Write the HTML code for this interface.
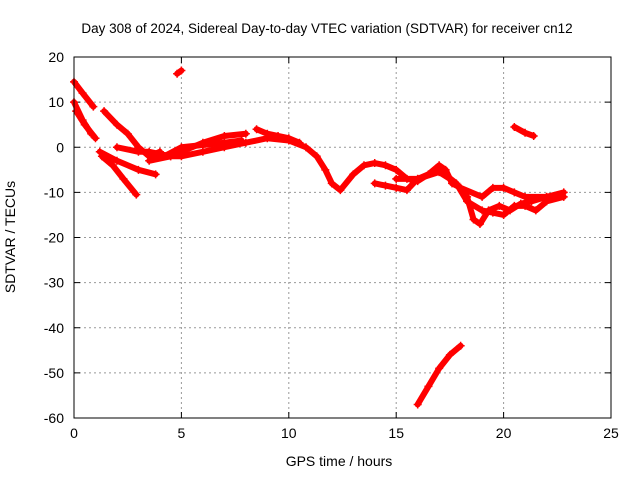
<!DOCTYPE html>
<html><head><meta charset="utf-8"><style>
body{margin:0;background:#fff;}
svg{display:block;font-family:"Liberation Sans",sans-serif;}
</style></head><body>
<svg id="chart" width="640" height="480">
<rect x="0" y="0" width="640" height="480" fill="#fff"/>
<text x="327" y="33" font-size="13.5" text-anchor="middle">Day 308 of 2024, Sidereal Day-to-day VTEC variation (SDTVAR) for receiver cn12</text>
<text x="339" y="466" font-size="14" text-anchor="middle">GPS time / hours</text>
<text transform="translate(15,237) rotate(-90)" font-size="14" text-anchor="middle">SDTVAR / TECUs</text>
<g id="grid"></g><g id="marks"></g>
<rect x="74" y="57" width="537" height="361" fill="none" stroke="#000" stroke-width="1"/>
</svg>
<script>
const xTicks=[0,5,10,15,20,25];
const yTicks=[20,10,0,-10,-20,-30,-40,-50,-60];
const track1=[[0,14.5],[0.4,12],[0.9,9]];
const track2=[[0,10],[0.4,6],[0.8,3]];
const track3=[[0.1,8],[0.5,5],[1,2]];
const track4=[[1.4,8],[2,5],[2.5,3],[3,0],[3.5,-2],[4,-1]];
const track5=[[1.2,-1],[2,-3],[3,-5],[3.8,-6]];
const track6=[[1.3,-2],[1.8,-4],[2.3,-7],[2.9,-10.5]];
const track7=[[2,0],[3,-1],[3.5,-1],[4.5,-2],[5,-2],[6,-1],[7,0],[8,1],[9,2],[10,1.5],[10.8,0],[11.3,-2],[11.7,-5],[12,-8],[12.4,-9.5],[13,-6],[13.5,-4],[14,-3.5],[14.5,-4],[15,-5],[15.5,-7],[16,-7.5],[16.5,-6],[17,-4],[17.3,-5],[17.6,-8],[18,-9],[18.3,-11],[18.6,-16],[18.9,-17],[19.3,-14],[19.8,-13],[20.3,-14],[20.8,-12.5],[21.3,-12],[22,-11],[22.8,-10]];
const track8=[[3.5,-3],[4.5,-2],[5,-1],[6,1],[7,2.5],[8,3]];
const track9=[[8.5,4],[9,3],[9.5,2.5],[10,2],[10.5,1]];
const track10=[[14,-8],[14.5,-8.5],[15,-9],[15.5,-9.5],[16,-7],[17,-5.5],[17.5,-7],[18,-9],[19,-11],[19.5,-9],[20,-9],[20.5,-10],[21,-11],[22,-11]];
const track11=[[15,-7],[16,-7],[17,-5],[17.8,-8],[18.3,-12],[19,-14],[19.5,-14.5],[20,-15],[20.5,-13],[21,-13],[21.5,-14],[22,-12],[22.8,-11]];
const track12=[[16,-57],[16.5,-53],[17,-49],[17.5,-46],[18,-44]];
const track13=[[4.8,16.3],[5,17]];
const track14=[[20.5,4.5],[21,3.2],[21.4,2.5]];
const track15=[[4.2,-2],[5,0],[6,0.5],[7,1],[7.8,1.5]];
const tracks=[track1,track2,track3,track4,track5,track6,track7,track8,track9,track10,track11,track12,track13,track14,track15];
const X0=74,X1=611,Y0=418,Y1=57;
const sx=h=>X0+(h-0)/(25-0)*(X1-X0);
const sy=v=>Y0-(v+60)/(80)*(Y0-Y1);
const NS="http://www.w3.org/2000/svg";
const grid=document.getElementById('grid'),marks=document.getElementById('marks');
function mk(tag,attrs,parent){const e=document.createElementNS(NS,tag);for(const k in attrs)e.setAttribute(k,attrs[k]);parent.appendChild(e);return e;}
xTicks.forEach(t=>{const x=sx(t);
 if(t>0&&t<25){const g=mk('line',{x1:x,x2:x,y1:Y1,y2:Y0,stroke:'#999','stroke-dasharray':'2,3','stroke-width':1},grid);
 
 }
 mk('line',{x1:x,x2:x,y1:Y0,y2:Y0-6,stroke:'#000'},grid);
 mk('line',{x1:x,x2:x,y1:Y1,y2:Y1+6,stroke:'#000'},grid);
 const tx=mk('text',{x:x,y:Y0+20,'font-size':14,'text-anchor':'middle'},grid);tx.textContent=t;
 
 
});
yTicks.forEach(t=>{const y=sy(t);
 if(t>-60&&t<20){const g=mk('line',{x1:X0,x2:X1,y1:y,y2:y,stroke:'#999','stroke-dasharray':'2,3','stroke-width':1},grid);
 
 }
 mk('line',{x1:X0,x2:X0+6,y1:y,y2:y,stroke:'#000'},grid);
 mk('line',{x1:X1,x2:X1-6,y1:y,y2:y,stroke:'#000'},grid);
 const tx=mk('text',{x:X0-10,y:y+5,'font-size':14,'text-anchor':'end'},grid);tx.textContent=t;
 
 
});
tracks.forEach((tr,i)=>{
 const pts=tr.map(p=>sx(p[0])+','+sy(p[1])).join(' ');
 const pl=mk('polyline',{points:pts,fill:'none',stroke:'#f00','stroke-width':6,'stroke-linejoin':'round','stroke-linecap':'round'},marks);
 
 
 tr.forEach(p=>{const x=sx(p[0]),y=sy(p[1]);
  mk('path',{d:`M${x-4},${y}H${x+4}M${x},${y-4}V${y+4}`,stroke:'#f00','stroke-width':1.5},marks);});
});
</script>
</body></html>
